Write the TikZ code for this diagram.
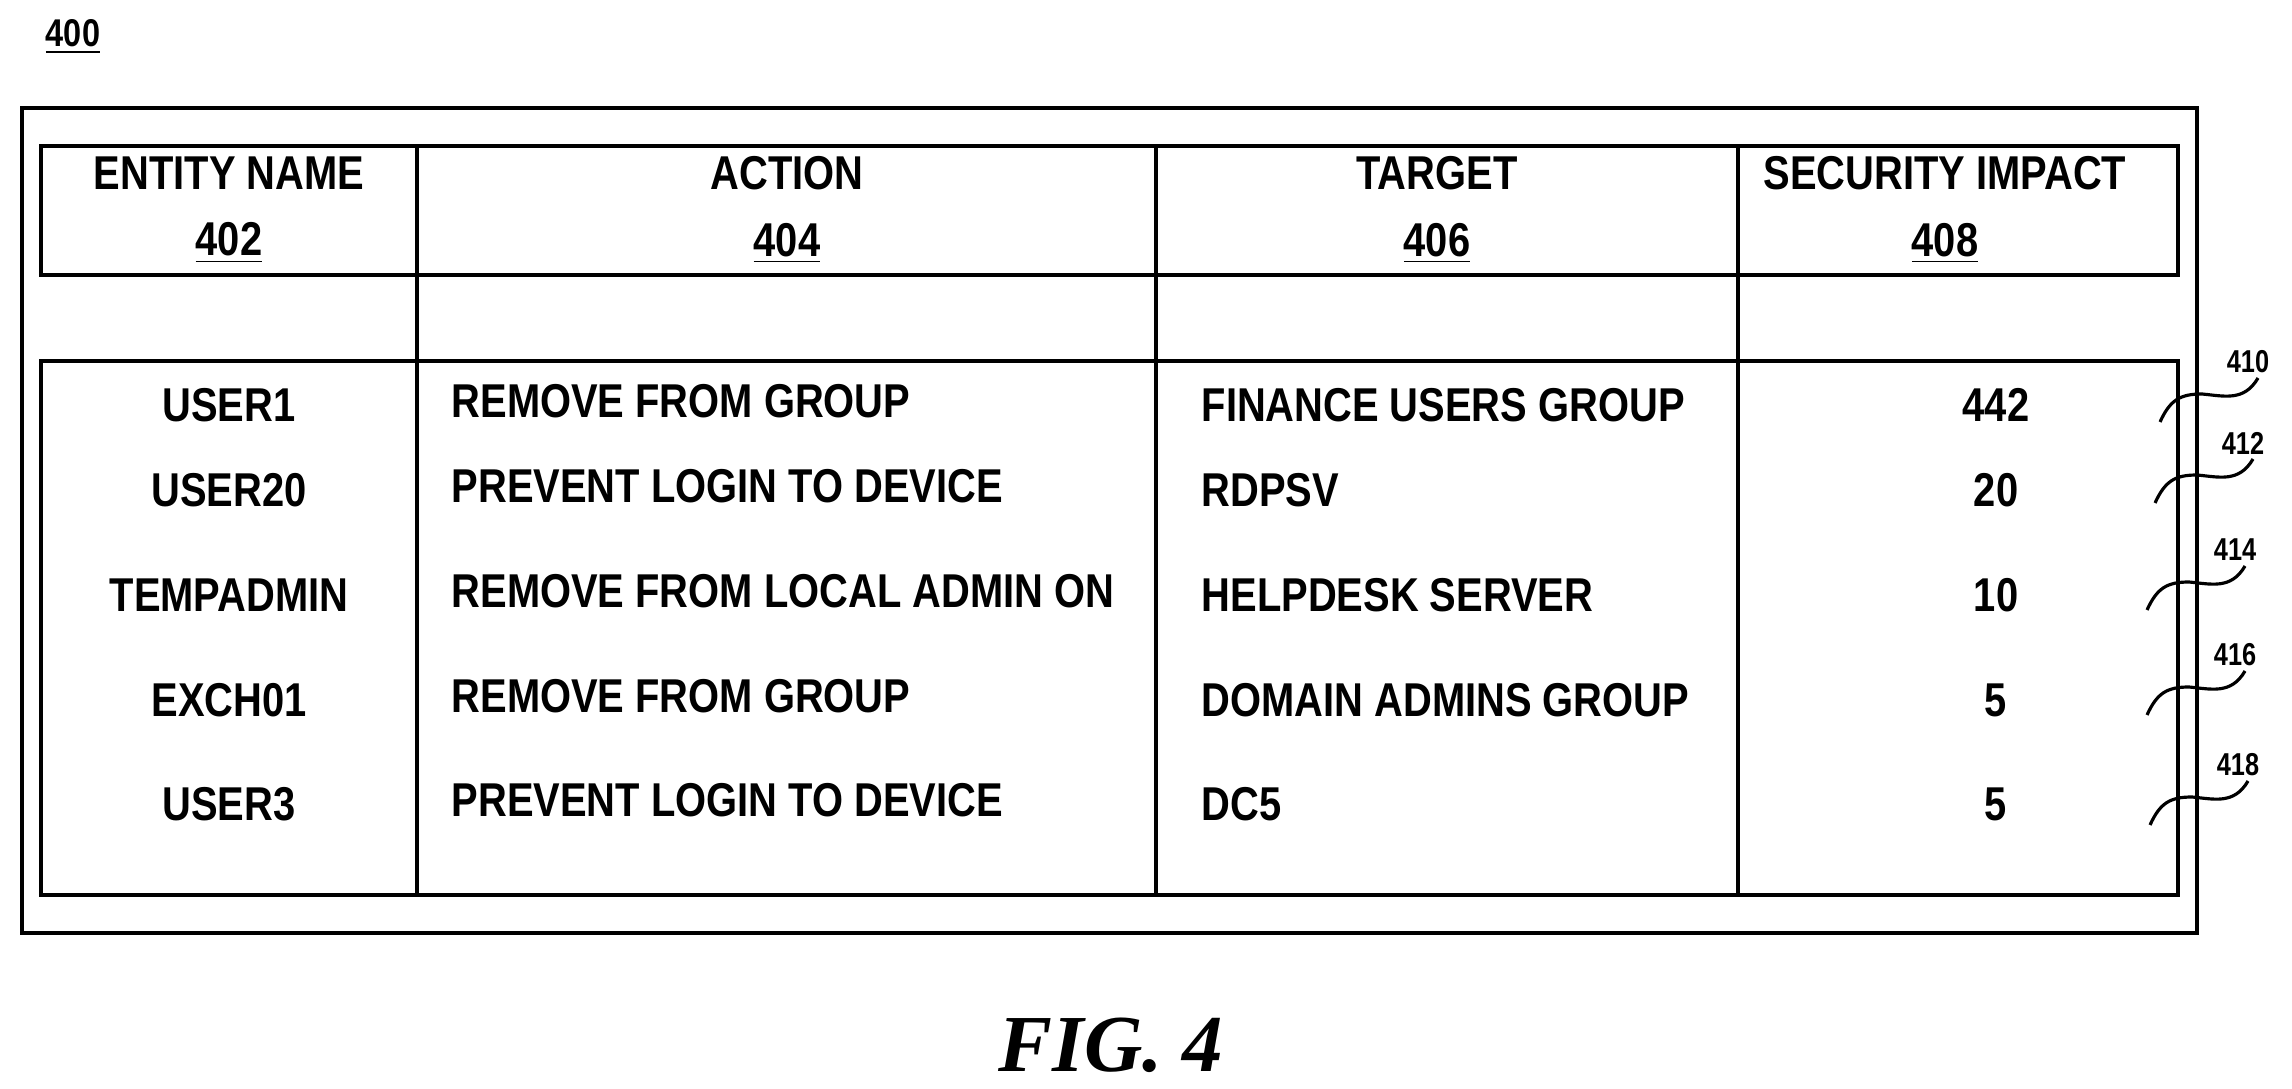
\documentclass[tikz,border=0pt]{standalone}
\usepackage{fontspec}
\setmainfont{Liberation Sans}[FakeStretch=0.84]
\newfontfamily\figfont{Liberation Serif}
\newfontfamily\numfont{Liberation Sans}[FakeStretch=0.8]
\tikzset{
  cell/.style={font=\bfseries\fontsize{13.5}{15}\selectfont, inner sep=0pt},
  head/.style={cell, align=center},
  refnum/.style={font=\numfont\bfseries\fontsize{9}{10}\selectfont, inner sep=0pt},
  leader/.style={line width=0.9pt},
  frame/.style={line width=0.9pt}
}
\begin{document}
\begin{tikzpicture}[x=0.01cm,y=-0.01cm]
	\useasboundingbox (0,0) rectangle (2292,1089);

	% boxes
	\draw[frame] (22,108) rectangle (2197,933);
	\draw[frame] (41,146) rectangle (2178,275);
	\draw[frame] (41,361) rectangle (2178,895);
	\foreach \colx in {417,1156,1738}
		\draw[frame] (\colx,146) -- (\colx,895);

	% header
	\node[head] (h402) at (229,210) {ENTITY NAME\\[4pt]\underline{402}};
	\node[head] (h404) at (787,210) {ACTION\\[4pt]\underline{404}};
	\node[head] (h406) at (1437,210) {TARGET\\[4pt]\underline{406}};
	\node[head] (h408) at (1945,210) {SECURITY IMPACT\\[4pt]\underline{408}};

	% rows
	\foreach \rowy/\ent/\act/\tgt/\imp [count=\i] in {
		405/USER1/REMOVE FROM GROUP/FINANCE USERS GROUP/442,
		490/USER20/PREVENT LOGIN TO DEVICE/RDPSV/20,
		595/TEMPADMIN/REMOVE FROM LOCAL ADMIN ON/HELPDESK SERVER/10,
		700/EXCH01/REMOVE FROM GROUP/DOMAIN ADMINS GROUP/5,
		804/USER3/PREVENT LOGIN TO DEVICE/DC5/5} {
		\node[cell] (ent\i) at (229,\rowy) {\ent};
		\node[cell, anchor=west] (act\i) at (451,\rowy-4) {\act};
		\node[cell, anchor=west] (tgt\i) at (1201,\rowy) {\tgt};
		\node[cell] (imp\i) at (1996,\rowy) {\imp};
	}

	% reference numerals with leaders
	\foreach \sx/\sy/\lbl in {2160/422/410, 2155/503/412, 2147/610/414, 2147/715/416, 2150/825/418} {
		\node[refnum] (r\lbl) at (\sx+88,\sy-60) {\lbl};
		\coordinate (s\lbl) at (\sx,\sy);
		\draw[leader] (s\lbl) .. controls +(10,-22) and +(-22,0) .. (\sx+42,\sy-28)
			.. controls +(22,2) and +(-14,24) .. (\sx+98,\sy-44);
	}

	\node[font=\bfseries\fontsize{11}{12}\selectfont, inner sep=0pt] (fig400) at (73,37) {\underline{400}};
	\node[font=\figfont\bfseries\itshape\fontsize{23}{26}\selectfont, inner sep=0pt] (caption) at (1111,1045) {FIG. 4};
\end{tikzpicture}
\end{document}
